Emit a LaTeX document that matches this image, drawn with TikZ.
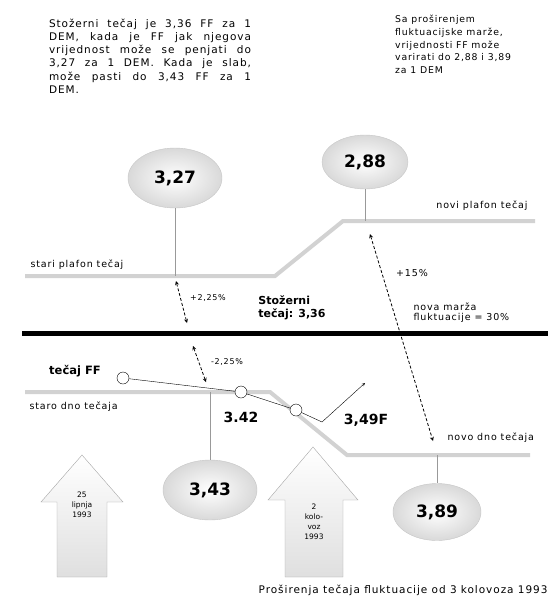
\documentclass[tikz,border=0pt]{standalone}
\usepackage{fontspec}
\setmainfont{DejaVu Sans}
\newfontfamily\lsfont[LetterSpace=9]{DejaVu Sans}
\usetikzlibrary{arrows,shapes,calc}

\begin{document}
\begin{tikzpicture}[x=1pt,y=-1pt,>=stealth,
      val/.style={ellipse,minimum width=94pt,minimum height=60pt,draw=gray!45,shading=radial,inner color=white,outer color=gray!30,font=\fontsize{17}{17}\selectfont\bfseries},
      dot/.style={circle,draw=black,fill=white,inner sep=0pt,minimum size=12pt},
      band/.style={draw=gray!35,line width=4pt},
      stem/.style={draw=gray!80,thick},
      lbl/.style={font=\lsfont\fontsize{9.5}{10}\selectfont},
      big/.style={font=\fontsize{14}{14}\selectfont\bfseries},
      pct/.style={<->,densely dashed,thick},
      datearrow/.style={draw=gray!70,top color=white,bottom color=gray!25}]
      \useasboundingbox (0,0) rectangle (553,603);
      % notes on top
      \node[align=left,font=\lsfont\fontsize{10.5}{13.2}\selectfont,inner sep=0pt] (info) at (150,56)
        {\makebox[202pt][s]{Stožerni tečaj je 3,36 FF za 1}\\
         \makebox[202pt][s]{DEM, kada je FF jak njegova}\\
         \makebox[202pt][s]{vrijednost može se penjati do}\\
         \makebox[202pt][s]{3,27 za 1 DEM. Kada je slab,}\\
         \makebox[202pt][s]{može pasti do 3,43 FF za 1}\\
         \makebox[202pt][l]{DEM.}};
      \node[align=left,font=\lsfont\fontsize{9.3}{12.7}\selectfont,inner sep=0pt,anchor=north west] (wide) at (395,15)
        {Sa proširenjem\\ fluktuacijske marže,\\ vrijednosti FF može\\ varirati do 2,88 i 3,89\\ za 1 DEM};
      % values
      \node[val] (v327) at (175,178) {3,27};
      \node[val,minimum width=86pt,minimum height=54pt] (v288) at (365,162) {2,88};
      \node[val] (v343) at (210,490) {3,43};
      \node[val,minimum width=88pt,minimum height=57pt] (v389) at (437,512) {3,89};
      % ceiling and floor
      \coordinate (sc0) at (25,276);  \coordinate (sc1) at (275,276);
      \coordinate (nc0) at (343,221); \coordinate (nc1) at (535,221);
      \coordinate (sd0) at (25,392);  \coordinate (sd1) at (270,392);
      \coordinate (nd0) at (347,455); \coordinate (nd1) at (530,455);
      \draw[band] (sc0) -- (sc1) -- (nc0) -- (nc1);
      \draw[band] (sd0) -- (sd1) -- (nd0) -- (nd1);
      \draw[stem] (v327.south) -- (v327.south |- sc0);
      \draw[stem] (v288.south) -- (v288.south |- nc0);
      \draw[stem] (v343.north) -- (v343.north |- sd0);
      \draw[stem] (v389.north) -- (v389.north |- nd0);
      % central rate
      \coordinate (m0) at (22,333); \coordinate (m1) at (548,333);
      \draw[line width=5pt] (m0) -- (m1);
      \node[align=left,font=\fontsize{11}{12.5}\selectfont\bfseries] (central) at (292,308) {Stožerni\\tečaj: 3,36};
      \node[lbl,align=left,anchor=west] (marza) at (410,313) {nova marža\\fluktuacije = 30\%};
      \node[lbl,anchor=west] (stari) at (27,265) {stari plafon tečaj};
      \node[lbl,anchor=east] (novi) at (531,206) {novi plafon tečaj};
      \node[lbl,anchor=west] (staro) at (26,407) {staro dno tečaja};
      \node[lbl,anchor=west] (novo) at (444,438) {novo dno tečaja};
      % percentages
      \coordinate (a1) at (176,281); \coordinate (a2) at (187,323);
      \coordinate (b1) at (193,346); \coordinate (b2) at (206,382);
      \coordinate (c1) at (370,234); \coordinate (c2) at (433,441);
      \draw[pct] (a1) -- (a2);
      \draw[pct] (b1) -- (b2);
      \draw[pct] (c1) -- (c2);
      \node[font=\lsfont\fontsize{8}{9}\selectfont] (p1) at (208,298) {+2,25\%};
      \node[font=\lsfont\fontsize{8}{9}\selectfont] (p2) at (227,362) {-2,25\%};
      \node[lbl] (p3) at (412,273) {+15\%};
      % FF path
      \node[font=\fontsize{11.5}{12}\selectfont\bfseries] (ff) at (75,371) {tečaj FF};
      \node[dot] (f1) at (123,378) {};
      \node[dot] (f2) at (241,392) {};
      \node[dot] (f3) at (296,410) {};
      \coordinate (f4) at (322,422); \coordinate (f5) at (365,383);
      \draw (f1) -- (f2) -- (f3) -- (f4);
      \draw[->] (f4) -- (f5);
      \node[big] (r342) at (241,417) {3.42};
      \node[big] (r349) at (366,420) {3,49F};
      % dates
      \draw[datearrow] (82,455) -- (123,502) -- (107,502) -- (107,577) -- (57,577) -- (57,502) -- (41,502) -- cycle;
      \node[align=center,font=\fontsize{7.5}{10}\selectfont] (d1) at (82,505) {25\\lipnja\\1993};
      \draw[datearrow] (313,447) -- (358,500) -- (343,500) -- (343,577) -- (285,577) -- (285,500) -- (268,500) -- cycle;
      \node[align=center,font=\fontsize{7.5}{10}\selectfont] (d2) at (314,522) {2\\kolo-\\voz\\1993};
      \node[font=\lsfont\fontsize{10.5}{11}\selectfont,anchor=east] (caption) at (551,590) {Proširenja tečaja fluktuacije od 3 kolovoza 1993};
    \end{tikzpicture}
\end{document}
